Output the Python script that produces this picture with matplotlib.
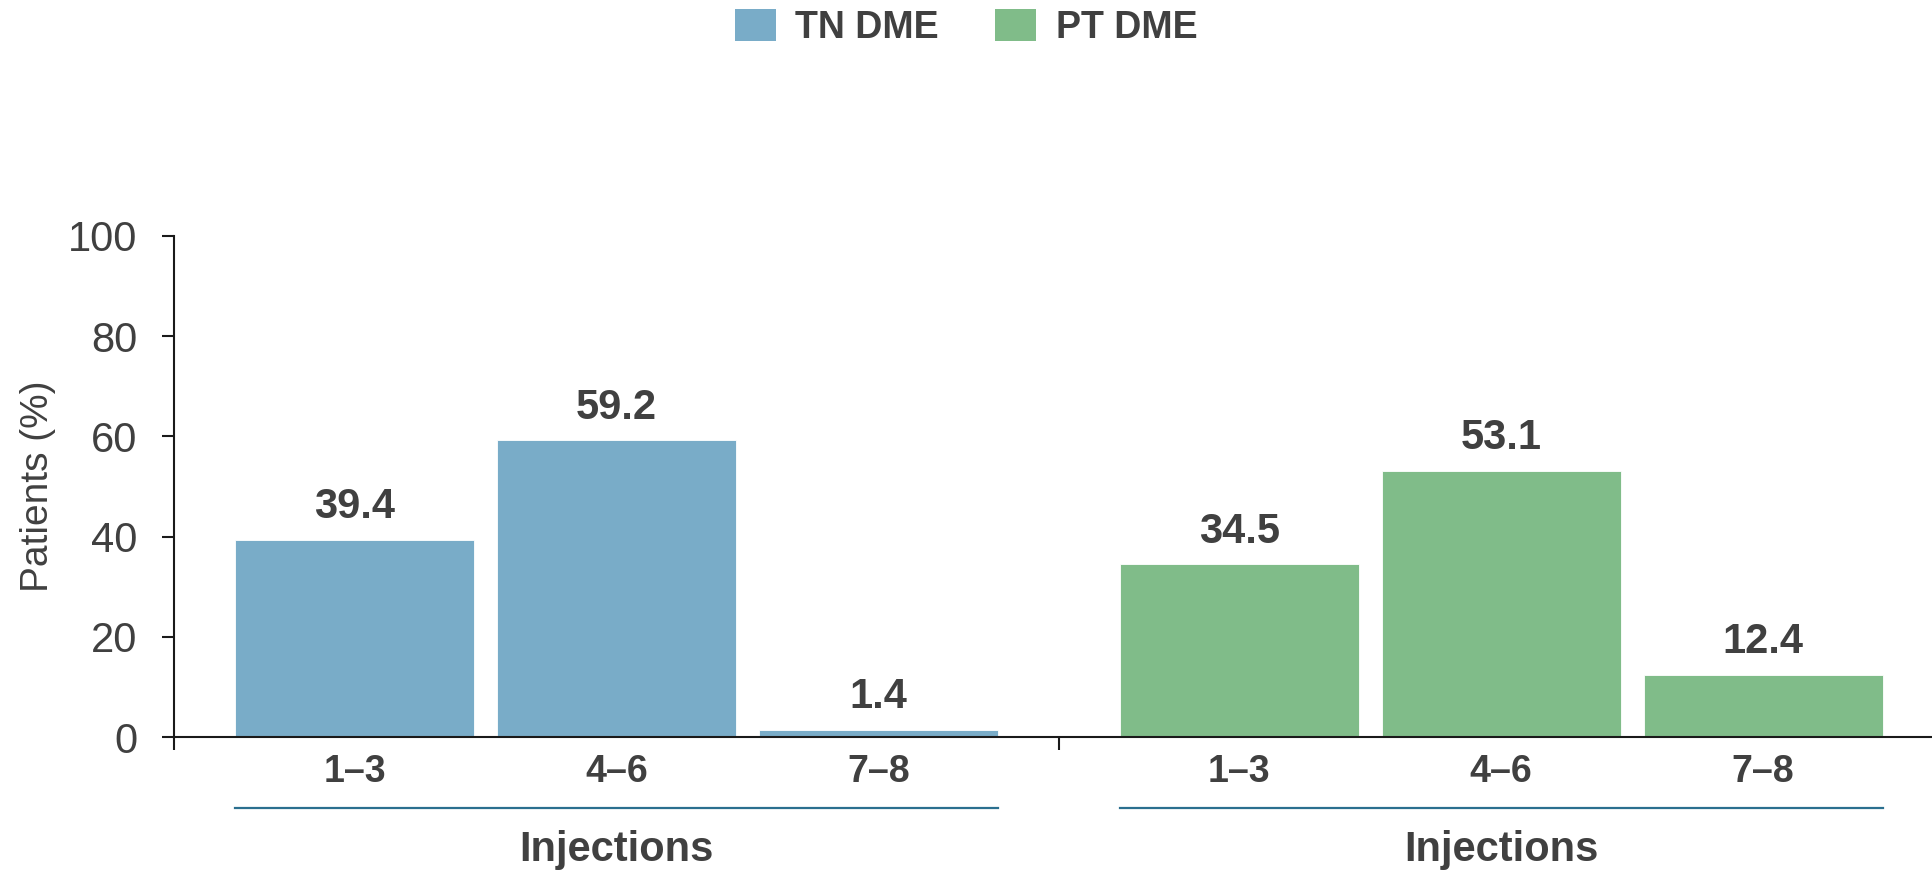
import matplotlib
matplotlib.use("Agg")
import matplotlib.pyplot as plt
from matplotlib.patches import Patch
from matplotlib.transforms import blended_transform_factory

plt.rcParams['font.family'] = ['Liberation Sans', 'DejaVu Sans']

# injections per patient, % of patients
categories = ['1\u20133', '4\u20136', '7\u20138']
tn_values = [39.4, 59.2, 1.4]
pt_values = [34.5, 53.1, 12.4]
series_names = ['TN DME', 'PT DME']
yticks = [0, 20, 40, 60, 80, 100]

blue = '#79acc8'
green = '#80bc89'
text_col = '#404040'
line_col = '#2b6f8f'

fig = plt.figure(figsize=(19.32, 8.75), dpi=100)
ax = fig.add_axes([0.0901, 0.1577, 0.9099, 0.5726])

# bar slots: two groups of three, with a wider gap between the groups
group_gap = 1.379
xs_tn = [i for i in range(len(categories))]
xs_pt = [i + len(categories) - 1 + group_gap for i in range(len(categories))]
width = 0.913

ax.bar(xs_tn, tn_values, width, color=blue, edgecolor='white', linewidth=0.6)
ax.bar(xs_pt, pt_values, width, color=green, edgecolor='white', linewidth=0.6)

for x, v in list(zip(xs_tn, tn_values)) + list(zip(xs_pt, pt_values)):
    ax.annotate(f'{v:.1f}', (x, v), xytext=(0, 9), textcoords='offset points',
                ha='center', va='bottom', fontsize=30, fontweight='bold',
                color=text_col)

left = -0.689
mid = (xs_tn[-1] + xs_pt[0]) / 2
ax.set_xlim(left, 6.024)
ax.set_ylim(0, 100)

for side in ['top', 'right']:
    ax.spines[side].set_visible(False)
for side in ['left', 'bottom']:
    ax.spines[side].set_linewidth(1.5)
    ax.spines[side].set_color('#1a1a1a')

ax.set_yticks(yticks)
ax.tick_params(axis='y', length=8.6, width=1.5, pad=18, labelsize=30,
               labelcolor=text_col, color='#1a1a1a')

ax.set_xticks(xs_tn + xs_pt)
ax.set_xticklabels(categories * 2, fontsize=27, fontweight='bold', color=text_col)
ax.tick_params(axis='x', which='major', length=0, pad=12)
ax.set_xticks([left, mid], minor=True)
ax.tick_params(axis='x', which='minor', length=9.4, width=1.5, color='#1a1a1a')

ax.set_ylabel('Patients (%)', fontsize=28, color=text_col)
ax.yaxis.set_label_coords(-0.067, 0.50)

# group underline and "Injections" caption below each group
trans = blended_transform_factory(ax.transData, ax.transAxes)
for xs in (xs_tn, xs_pt):
    x0 = xs[0] - width / 2
    x1 = xs[-1] + width / 2
    ax.plot([x0, x1], [-0.1417, -0.1417], color=line_col, lw=1.6,
            transform=trans, clip_on=False)
    ax.text((x0 + x1) / 2, -0.2255, 'Injections', transform=trans,
            ha='center', va='center', fontsize=30, fontweight='bold',
            color=text_col)

handles = [Patch(facecolor=blue), Patch(facecolor=green)]
leg = fig.legend(handles, series_names, loc='center', bbox_to_anchor=(0.5, 0.969),
                 ncol=2, frameon=False, handlelength=1.09, handleheight=0.93,
                 handletextpad=0.53, columnspacing=1.49,
                 prop={'size': 27, 'weight': 'bold'})
for t in leg.get_texts():
    t.set_color(text_col)

fig.savefig('out.png', dpi=100)
